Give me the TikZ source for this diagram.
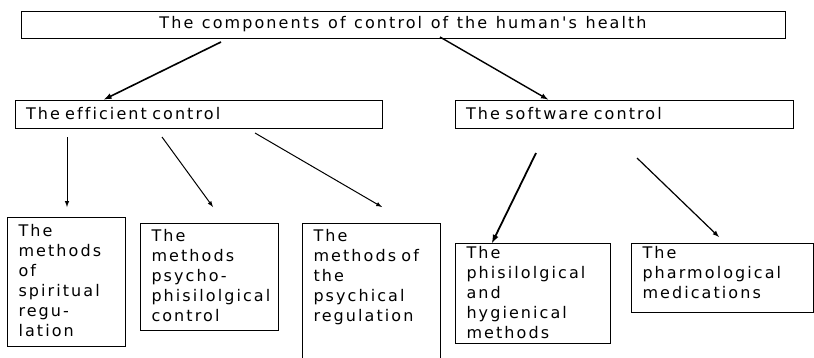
\documentclass[tikz,border=0pt]{standalone}
\usepackage{fontspec}
\setmainfont{DejaVu Sans}[LetterSpace=13, WordSpace=1.2, Ligatures={TeXOff,NoCommon}]
\usepackage{amsmath}

\begin{document}
\begin{tikzpicture}[x=1pt, y=-1pt, line width=1pt,
        main/.style = {draw, rectangle, inner xsep=11pt, font=\fontsize{16}{20}\selectfont},
        leaf/.style = {main, anchor=north west, align=left, inner ysep=8pt}]
        \useasboundingbox (0,0) rectangle (814,357);
        \clip (0,0) rectangle (814,357);

        \node[main, minimum width=764pt, minimum height=27pt] (a) at (403,24.5) {The components of control of the human's health};
        \node[main, text width=345pt, minimum height=28pt] (b) at (198.5,114) {The efficient control};
        \node[main, text width=316pt, minimum height=28pt] (c) at (624,114) {The software control};

        \node[leaf, text width=96pt, text height=11pt, text depth=102pt] (d) at (7,217) {The\\methods\\of\\spiritual\\regu-\\lation};
        \node[leaf, text width=116pt, text height=10pt, text depth=81pt] (e) at (140,223) {The\\methods\\psycho-\\phisilolgical\\control};
        \node[leaf, text width=116pt, text height=10pt, text depth=116pt] (f) at (302,223) {The\\methods of\\the\\psychical\\regulation};
        \node[leaf, text width=133pt, text height=7pt, text depth=77pt] (g) at (455,243) {The\\phisilolgical\\and\\hygienical\\methods};
        \node[leaf, text width=160pt, text height=7pt, text depth=46pt] (h) at (631,243) {The\\pharmological\\medications};

        \coordinate (a1) at (221,42);
        \coordinate (a2) at (440,37);
        \coordinate (b1) at (67,137);
        \coordinate (b2) at (162,137);
        \coordinate (b3) at (255,133);
        \coordinate (c1) at (536,153);
        \coordinate (c2) at (637,158);
        \coordinate (d1) at (67,207);
        \coordinate (e1) at (213,207);
        \coordinate (f1) at (382,207);
        \coordinate (h1) at (719,237);

        \draw[-latex, thick, line width=1.6pt] (a1) -- (b.north -| 104,0);
        \draw[-latex, thick, line width=1.4pt] (a2) -- (c.north -| 548,0);
        \draw[-latex] (b1) -- (d1);
        \draw[-latex] (b2) -- (e1);
        \draw[-latex] (b3) -- (f1);
        \draw[-latex, line width=1.8pt] (c1) -- (g.north -| 492,0);
        \draw[-latex, line width=1.2pt] (c2) -- (h1);
    \end{tikzpicture}
\end{document}
